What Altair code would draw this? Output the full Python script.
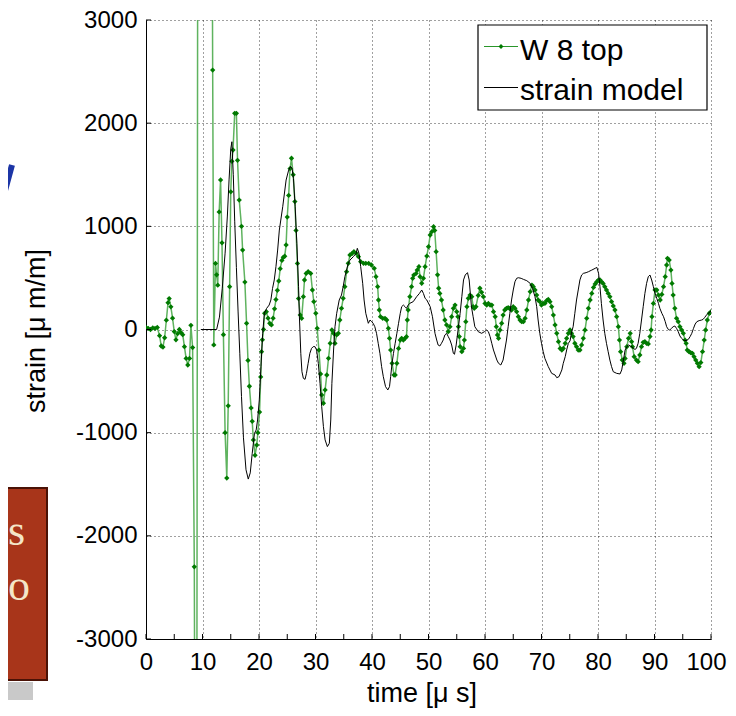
import altair as alt
import pandas as pd

# ---- data ----
green_t = [0.0, 0.4, 0.8, 1.2, 1.6, 2.0, 2.4, 2.7, 3.0, 3.3, 3.6, 3.9, 4.1, 4.4, 4.7, 5.0, 5.3, 5.6, 5.9, 6.2,
           6.5, 6.8, 7.1, 7.4, 7.7, 7.95, 8.25, 8.55, 8.9, 9.25, 11.4, 11.8, 12.0, 12.3, 12.5, 12.7, 12.95, 13.2, 13.45, 13.7,
           14.0, 14.3, 14.55, 14.8, 15.0, 15.2, 15.4, 15.7, 16.0, 16.2, 16.5, 16.9, 17.1, 17.5, 17.8, 18.05, 18.3, 18.6, 18.8, 19.0,
           19.3, 19.6, 19.8, 20.1, 20.3, 20.45, 20.6, 20.8, 21.0, 21.3, 21.6, 21.9, 22.2, 22.5, 22.75, 23.0, 23.25, 23.5, 23.75, 24.05,
           24.3, 24.55, 24.8, 25.0, 25.25, 25.5, 25.75, 26.05, 26.35, 26.55, 26.8, 27.0, 27.3, 27.55, 27.85, 28.05, 28.35, 28.7, 29.15, 29.45,
           29.7, 30.05, 30.3, 30.6, 30.9, 31.1, 31.4, 31.7, 32.0, 32.3, 32.6, 32.9, 33.2, 33.45, 33.75, 34.05, 34.3, 34.6, 34.9, 35.2,
           35.5, 35.8, 36.1, 36.5, 36.8, 37.2, 37.6, 38.0, 38.5, 38.9, 39.4, 39.9, 40.4, 40.7, 41.0, 41.15, 41.3, 41.5, 41.9, 42.3,
           42.6, 42.9, 43.1, 43.3, 43.55, 43.9, 44.1, 44.4, 44.7, 45.0, 45.25, 45.55, 45.85, 46.1, 46.25, 46.4, 46.7, 47.0, 47.2, 47.4,
           47.8, 48.0, 48.3, 48.5, 48.8, 49.1, 49.4, 49.7, 50.0, 50.3, 50.6, 50.9, 51.1, 51.35, 51.6, 51.8, 52.0, 52.3, 52.6, 52.9,
           53.2, 53.5, 53.8, 54.1, 54.4, 54.7, 55.0, 55.2, 55.3, 55.45, 55.6, 55.9, 56.2, 56.35, 56.6, 56.8, 57.05, 57.35, 57.65, 57.9,
           58.1, 58.4, 58.8, 59.1, 59.4, 59.7, 60.0, 60.3, 60.6, 60.9, 61.2, 61.5, 61.8, 62.0, 62.2, 62.4, 62.65, 62.95, 63.2, 63.5,
           63.8, 64.1, 64.4, 64.7, 65.0, 65.3, 65.6, 65.9, 66.2, 66.5, 66.8, 67.1, 67.4, 67.7, 68.0, 68.3, 68.55, 68.85, 69.15, 69.4,
           69.7, 70.0, 70.3, 70.6, 70.9, 71.2, 71.5, 71.8, 72.1, 72.4, 72.7, 73.0, 73.3, 73.6, 73.85, 74.2, 74.45, 74.75, 75.05, 75.3,
           75.6, 75.9, 76.2, 76.5, 76.8, 77.1, 77.4, 77.7, 78.0, 78.3, 78.6, 78.9, 79.2, 79.5, 79.8, 80.1, 80.35, 80.6, 80.9, 81.2,
           81.5, 81.8, 82.1, 82.4, 82.7, 83.0, 83.3, 83.6, 83.8, 84.0, 84.3, 84.6, 84.8, 85.1, 85.4, 85.7, 85.95, 86.1, 86.4, 86.8,
           87.1, 87.4, 87.7, 88.0, 88.3, 88.6, 88.9, 89.2, 89.4, 89.55, 89.8, 90.1, 90.4, 90.7, 91.0, 91.3, 91.6, 91.9, 92.15, 92.3,
           92.6, 92.9, 93.1, 93.3, 93.6, 93.9, 94.2, 94.5, 94.8, 95.1, 95.4, 95.6, 95.8, 96.1, 96.4, 96.7, 97.0, 97.3, 97.6, 97.9,
           98.2, 98.5, 98.8, 99.05, 99.35, 99.7, 100.0]
green_v = [20, 10, 0, 15, 10, 20, -60, -160, -170, -80, 90, 260, 300, 220, 110, -20, -100, -40, 0, -30,
           -50, -166, -280, -344, -280, 40, -175, -2300, -9000, 9000, 9000, 2515, -150, 640, 530, 430, 1140, 1450, 840, -50,
           -1000, -1440, -740, 415, 1335, 1630, 1740, 2095, 2095, 1640, 1255, 1000, 770, 460, 60, -300, -550, -760, -890, -1070,
           -1220, -1120, -1000, -800, -460, -215, -100, 0, 157, 173, 110, 60, 44, 110, 200, 290, 380, 470, 590, 670,
           700, 710, 820, 1090, 1300, 1560, 1660, 1500, 1240, 960, 640, 300, 140, 108, 318, 480, 544, 560, 544, 383,
           270, 157, 11, -199, -431, -634, -715, -586, -441, -279, -134, -5, -37, -134, -53, -37, 92, 205, 302, 415,
           560, 641, 722, 738, 754, 738, 706, 657, 641, 641, 641, 625, 593, 512, 415, 286, 189, 124, 108, 108,
           92, 11, -86, -199, -328, -441, -441, -328, -183, -102, -86, -102, -86, -70, 92, 189, 318, 415, 496, 528,
           544, 576, 609, 512, 448, 496, 609, 712, 803, 916, 948, 996, 960, 754, 530, 400, 350, 286, 189, 92,
           44, -21, 27, 124, 205, 237, 173, 124, 27, -69, -166, -215, -183, -102, 76, 221, 302, 334, 318, 221,
           205, 221, 330, 400, 360, 318, 253, 237, 253, 237, 237, 173, 124, 27, -53, -86, -5, 60, 140, 189,
           205, 211, 205, 189, 221, 205, 173, 124, 92, 76, 76, 108, 189, 286, 367, 431, 415, 383, 334, 286,
           270, 237, 253, 253, 279, 292, 270, 221, 140, 44, -37, -118, -183, -199, -183, -134, -86, -37, -5, -37,
           -69, -134, -166, -199, -199, -150, -86, -5, 108, 205, 286, 350, 408, 441, 463, 480, 480, 463, 447, 415,
           383, 350, 318, 270, 228, 189, 124, 27, -102, -215, -296, -328, -280, -166, -86, -37, -118, -166, -263, -296,
           -312, -247, -166, -124, -118, -134, -140, -69, -5, 124, 253, 383, 383, 334, 286, 340, 415, 512, 625, 690,
           673, 576, 447, 334, 205, 108, 76, 27, -5, -37, -102, -134, -199, -215, -225, -231, -263, -296, -328, -360,
           -321, -215, -102, -5, 92, 157, 173]

model_t = [9.7, 12.5, 13.0, 13.5, 14.0, 14.4, 14.7, 15.0, 15.2, 15.45, 15.7, 16.0, 16.3, 16.6, 16.9, 17.25, 17.7, 18.1, 18.45, 18.8,
           19.2, 19.5, 19.75, 20.05, 20.35, 20.65, 20.95, 21.35, 21.8, 22.1, 22.4, 22.7, 23.0, 23.3, 23.6, 24.2, 24.8, 25.25, 25.6, 25.85,
           26.1, 26.4, 26.7, 27.0, 27.15, 27.4, 27.6, 27.85, 28.15, 28.4, 28.7, 29.0, 29.3, 29.6, 29.9, 30.2, 30.5, 30.8, 31.1, 31.4,
           31.7, 32.1, 32.45, 32.7, 32.9, 33.2, 33.45, 33.75, 34.2, 34.6, 34.9, 35.2, 35.5, 35.8, 36.1, 36.7, 37.2, 37.4, 37.7, 38.0,
           38.35, 38.6, 38.9, 39.35, 39.65, 39.95, 40.2, 40.5, 40.8, 41.1, 41.4, 41.7, 42.0, 42.4, 42.8, 43.1, 43.3, 43.55, 43.8, 44.1,
           44.4, 44.7, 45.0, 45.25, 45.55, 45.85, 46.1, 46.4, 46.7, 47.3, 47.9, 48.4, 48.8, 49.1, 49.4, 49.7, 50.3, 50.7, 51.15, 51.45,
           51.7, 52.0, 52.3, 52.6, 52.9, 53.2, 53.5, 53.8, 54.1, 54.4, 54.6, 54.9, 55.3, 55.6, 55.9, 56.2, 56.5, 56.9, 57.2, 57.4,
           57.6, 57.9, 58.2, 58.8, 59.4, 59.9, 60.3, 60.6, 60.9, 61.2, 61.5, 61.8, 62.1, 62.4, 62.8, 63.2, 63.5, 63.8, 64.1, 64.4,
           64.7, 65.0, 65.3, 65.6, 65.9, 66.4, 66.8, 67.4, 68.0, 68.4, 68.85, 69.15, 69.4, 69.7, 70.0, 70.3, 70.6, 71.2, 71.8, 72.4,
           72.7, 73.1, 73.6, 73.85, 74.2, 74.45, 74.75, 75.05, 75.35, 75.6, 75.9, 76.2, 76.5, 76.8, 77.1, 77.4, 77.9, 78.3, 78.9, 79.5,
           79.8, 80.1, 80.35, 80.6, 80.9, 81.2, 81.5, 81.8, 82.1, 82.4, 82.7, 83.3, 83.9, 84.2, 84.5, 84.8, 85.1, 85.4, 85.7, 86.0,
           86.25, 86.55, 86.8, 87.1, 87.4, 87.7, 88.0, 88.3, 88.6, 88.9, 89.2, 89.5, 89.8, 90.1, 90.4, 90.7, 90.95, 91.3, 91.6, 91.9,
           92.15, 92.45, 92.7, 93.0, 93.3, 93.6, 93.9, 94.2, 94.5, 94.8, 95.1, 95.6, 96.0, 96.3, 96.6, 96.9, 97.2, 97.5, 97.9, 98.35,
           98.6, 98.9, 99.2, 99.5, 100.0]
model_v = [0, 0, 120, 400, 740, 1100, 1450, 1750, 1820, 1500, 1050, 600, 170, -230, -650, -1050, -1360, -1450, -1390, -1200,
           -1006, -974, -877, -683, -360, -37, 157, 205, 237, 286, 399, 480, 609, 770, 964, 1190, 1449, 1545, 1580, 1560,
           1465, 1190, 835, 415, 124, -231, -409, -473, -483, -425, -328, -231, -183, -166, -166, -199, -328, -522, -748, -941,
           -1070, -1135, -1103, -877, -522, -199, 27, 157, 286, 334, 415, 512, 576, 641, 673, 706, 738, 787, 738, 609,
           448, 286, 157, 60, 92, 76, 60, 27, -37, -134, -231, -360, -457, -554, -586, -554, -457, -328, -231, -134,
           -37, 60, 157, 221, 237, 221, 205, 237, 254, 270, 318, 350, 383, 350, 302, 286, 221, 124, -37, -102,
           -150, -160, -134, -102, -53, -37, -69, -102, -150, -231, -240, -150, 27, 157, 318, 480, 528, 551, 480, 350,
           221, 124, 27, -21, -37, -21, -5, -21, -69, -134, -199, -247, -296, -328, -344, -296, -199, -102, 27, 157,
           286, 383, 463, 496, 502, 496, 486, 473, 447, 399, 318, 221, 92, -37, -134, -215, -280, -360, -425, -441,
           -467, -457, -392, -328, -263, -199, -134, -110, -21, 27, 157, 286, 383, 480, 528, 544, 551, 560, 576, 593,
           602, 544, 415, 253, 92, -37, -134, -215, -296, -360, -409, -425, -431, -392, -296, -199, -166, -150, -160, -166,
           -183, -193, -183, -134, -37, 92, 221, 350, 447, 512, 528, 480, 415, 350, 302, 253, 205, 157, 124, 76,
           27, 0, -5, 11, 27, 34, 11, -21, -63, -86, -102, -108, -95, -69, -37, 11, 53, 76, 86, 92,
           98, 118, 140, 157, 179]

x_label_values = [0, 10, 20, 30, 40, 50, 60, 70, 80, 90, 100]
x_tick_marks = [0, 5, 10, 15, 20, 25, 30, 35, 40, 45, 50, 55, 60, 65, 70, 75, 80, 85, 90, 95, 100]
y_label_values = [-3000, -2000, -1000, 0, 1000, 2000, 3000]
series_names = ["W 8 top", "strain model"]

W, H = 565, 619
FONT = "Liberation Sans"
LINE_GREEN = "#5fb35f"
MARK_GREEN = "#007a00"

green = pd.DataFrame({"t": green_t, "v": green_v})
model = pd.DataFrame({"t": model_t, "v": model_v})
one = pd.DataFrame({"k": [0]})

xs = alt.Scale(domain=[0, 100], nice=False, zero=False)
ys = alt.Scale(domain=[-3000, 3000], nice=False, zero=False)

grid_kw = dict(grid=True, gridColor="#000000", gridDash=[1, 3], gridWidth=1, gridOpacity=0.75,
               domainColor="#000000", domainWidth=1, ticks=False, tickSize=0,
               labelFont=FONT, labelFontSize=24, labelColor="#000000", title=None,
               labelOverlap=False, labelFlush=False)

x_enc = alt.X("t:Q", scale=xs, axis=alt.Axis(
    values=x_label_values, labelPadding=11,
    labelOffset={"condition": {"test": "datum.value == 100", "value": -5}, "value": 0},
    **grid_kw))
y_enc = alt.Y("v:Q", scale=ys, axis=alt.Axis(values=y_label_values, labelPadding=9,
                                             labelExpr="toString(datum.value)", **grid_kw))

green_line = alt.Chart(green).mark_line(color=LINE_GREEN, strokeWidth=1.5, clip=True).encode(x=x_enc, y=y_enc)
green_pts = alt.Chart(green).mark_point(shape="diamond", filled=True, size=28, color=MARK_GREEN, opacity=1, clip=True).encode(
    x=alt.X("t:Q", scale=xs), y=alt.Y("v:Q", scale=ys))
model_line = alt.Chart(model).mark_line(color="#000000", strokeWidth=1, clip=True).encode(
    x=alt.X("t:Q", scale=xs), y=alt.Y("v:Q", scale=ys))

# inward ticks
xt = alt.Chart(pd.DataFrame({"t": x_tick_marks})).mark_rule(color="#000000", strokeWidth=1).encode(
    x=alt.X("t:Q", scale=xs), y=alt.datum(-3000), y2=alt.value(H - 5))
yt = alt.Chart(pd.DataFrame({"v": y_label_values})).mark_rule(color="#000000", strokeWidth=1).encode(
    y=alt.Y("v:Q", scale=ys), x=alt.datum(0), x2=alt.value(5))

# axis titles
xtitle = alt.Chart(one).mark_text(font=FONT, fontSize=27, align="center", baseline="alphabetic", color="#000").encode(
    x=alt.value(276), y=alt.value(682), text=alt.value("time [μ s]"))
ytitle = alt.Chart(one).mark_text(font=FONT, fontSize=27, align="center", baseline="middle", angle=270, color="#000").encode(
    x=alt.value(-109), y=alt.value(311), text=alt.value("strain [μ m/m]"))

# legend
leg_box = alt.Chart(one).mark_rect(fill="white", stroke="#000000", strokeWidth=1.2).encode(
    x=alt.value(332), x2=alt.value(561), y=alt.value(5), y2=alt.value(90))
leg_g = alt.Chart(one).mark_rule(color="#2a962a", strokeWidth=1.2).encode(
    x=alt.value(338), x2=alt.value(372), y=alt.value(26.5))
leg_gp = alt.Chart(one).mark_point(shape="diamond", filled=True, size=24, color=MARK_GREEN, opacity=1).encode(
    x=alt.value(355), y=alt.value(26.5))
leg_k = alt.Chart(one).mark_rule(color="#000000", strokeWidth=1).encode(
    x=alt.value(338), x2=alt.value(372), y=alt.value(67.5))
leg_t1 = alt.Chart(one).mark_text(font=FONT, fontSize=30, align="left", baseline="alphabetic", color="#000").encode(
    x=alt.value(374), y=alt.value(39.5), text=alt.value(series_names[0]))
leg_t2 = alt.Chart(one).mark_text(font=FONT, fontSize=30, align="left", baseline="alphabetic", color="#000").encode(
    x=alt.value(374), y=alt.value(80), text=alt.value(series_names[1]))

# slide background pieces at the left edge
red_box = alt.Chart(one).mark_rect(fill="#a8351a", stroke="#4a1206", strokeWidth=2).encode(
    x=alt.value(-150), x2=alt.value(-99), y=alt.value(468), y2=alt.value(660))
shadow = alt.Chart(one).mark_rect(fill="#9c9c9c", opacity=0.55).encode(
    x=alt.value(-150), x2=alt.value(-113), y=alt.value(662), y2=alt.value(680))
s_txt = alt.Chart(one).mark_text(font="Liberation Serif", fontSize=44, align="left", baseline="alphabetic", color="#f4e6c8").encode(
    x=alt.value(-138), y=alt.value(525), text=alt.value("s"))
o_txt = alt.Chart(one).mark_text(font="Liberation Serif", fontSize=44, align="left", baseline="alphabetic", color="#f4e6c8").encode(
    x=alt.value(-138), y=alt.value(580), text=alt.value("o"))
slash = alt.Chart(one).mark_rule(color="#1c35a6", strokeWidth=6).encode(
    x=alt.value(-143), x2=alt.value(-134), y=alt.value(178), y2=alt.value(145))

chart = alt.layer(
    green_line, green_pts, model_line, xt, yt, xtitle, ytitle,
    leg_box, leg_g, leg_gp, leg_k, leg_t1, leg_t2,
    red_box, shadow, s_txt, o_txt, slash,
).properties(
    width=W, height=H,
    autosize=alt.AutoSizeParams(type="none"),
    padding={"left": 138, "top": 12, "right": 17, "bottom": 69},
    background="white",
).configure_view(strokeWidth=0)

chart.save("out.html", embed_options={"renderer": "svg", "actions": False})
